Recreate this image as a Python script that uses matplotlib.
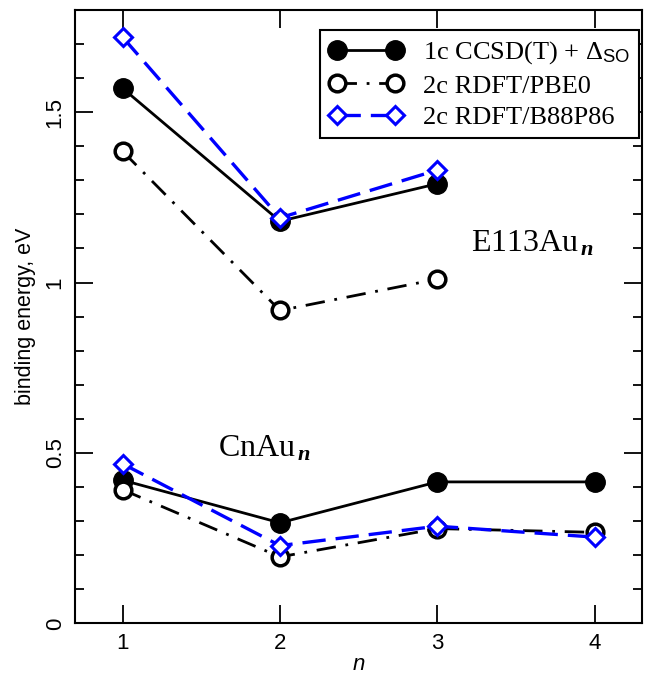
import numpy as np
import matplotlib.pyplot as plt
from matplotlib.ticker import MultipleLocator

plt.rcParams['mathtext.fontset'] = 'custom'
plt.rcParams['mathtext.rm'] = 'Liberation Serif'
plt.rcParams['mathtext.it'] = 'Liberation Serif:italic'
plt.rcParams['mathtext.bf'] = 'Liberation Serif:bold:italic'
plt.rcParams['mathtext.sf'] = 'Liberation Sans'

# E113Au_n (n = 1..3) and CnAu_n (n = 1..4)
n_e113 = [1, 2, 3]
n_cn = [1, 2, 3, 4]
ccsd_e113 = [1.57, 1.18, 1.29]
pbe0_e113 = [1.385, 0.918, 1.01]
b88_e113 = [1.72, 1.19, 1.33]
ccsd_cn = [0.42, 0.295, 0.415, 0.415]
pbe0_cn = [0.392, 0.195, 0.278, 0.267]
b88_cn = [0.468, 0.228, 0.285, 0.253]

labels = [r'1c CCSD(T) + $\Delta_{\mathsf{SO}}$', '2c RDFT/PBE0', '2c RDFT/B88P86']
yticks = [0, 0.5, 1, 1.5]
yticklabels = ['0', '0.5', '1', '1.5']

fig = plt.figure(figsize=(6.45, 6.77), dpi=100)
ax = fig.add_axes([0.117, 0.0793, 0.878, 0.906])

st1 = dict(color='black', lw=2.0, ls='-', marker='o', ms=14, mfc='black', mec='black')
st2 = dict(color='black', lw=2.0, dashes=(7, 3.5, 1, 3.5), marker='o', ms=12,
           mfc='white', mec='black', mew=2.5)
st3 = dict(color='blue', lw=2.4, dashes=(7, 3), marker='D', ms=9.5,
           mfc='white', mec='blue', mew=2.2)

l1, = ax.plot(n_e113, ccsd_e113, **st1)
ax.plot(n_cn, ccsd_cn, **st1)
l2, = ax.plot(n_e113, pbe0_e113, **st2)
ax.plot(n_cn, pbe0_cn, **st2)
l3, = ax.plot(n_e113, b88_e113, **st3)
ax.plot(n_cn, b88_cn, **st3)

ax.set_xlim(0.7, 4.3)
ax.set_ylim(0, 1.8)
ax.set_xticks([1, 2, 3, 4])
ax.set_yticks(yticks, yticklabels, rotation=90, va='center')
ax.yaxis.set_minor_locator(MultipleLocator(0.1))
ax.tick_params(which='both', direction='in', top=True, right=True, width=1.3,
               labelsize=16, pad=7)
ax.tick_params(which='major', length=13)
ax.tick_params(which='minor', length=6.5)
for lab in ax.get_xticklabels() + ax.get_yticklabels():
    lab.set_family('Liberation Sans')
for sp in ax.spines.values():
    sp.set_linewidth(1.5)

ax.set_xlabel('n', family='Liberation Sans', style='italic', fontsize=16, labelpad=0)
ax.set_ylabel('binding energy, eV', family='Liberation Sans', fontsize=15.5, labelpad=6)

ax.text(3.214, 1.092, r'E113Au$_{\,\mathbf{n}}$', family='Liberation Serif', fontsize=23)
ax.text(1.606, 0.49, r'CnAu$_{\,\mathbf{n}}$', family='Liberation Serif', fontsize=23)

leg = ax.legend([l1, l2, l3], labels, loc='upper right', bbox_to_anchor=(0.995, 0.967),
                borderaxespad=0, numpoints=2, handlelength=2.8, handletextpad=0.75,
                labelspacing=0.3, borderpad=0.35, fancybox=False, framealpha=1,
                prop={'family': 'Liberation Serif', 'size': 19})
leg.get_frame().set_edgecolor('black')
leg.get_frame().set_linewidth(1.5)

plt.savefig('out.png', dpi=100)
